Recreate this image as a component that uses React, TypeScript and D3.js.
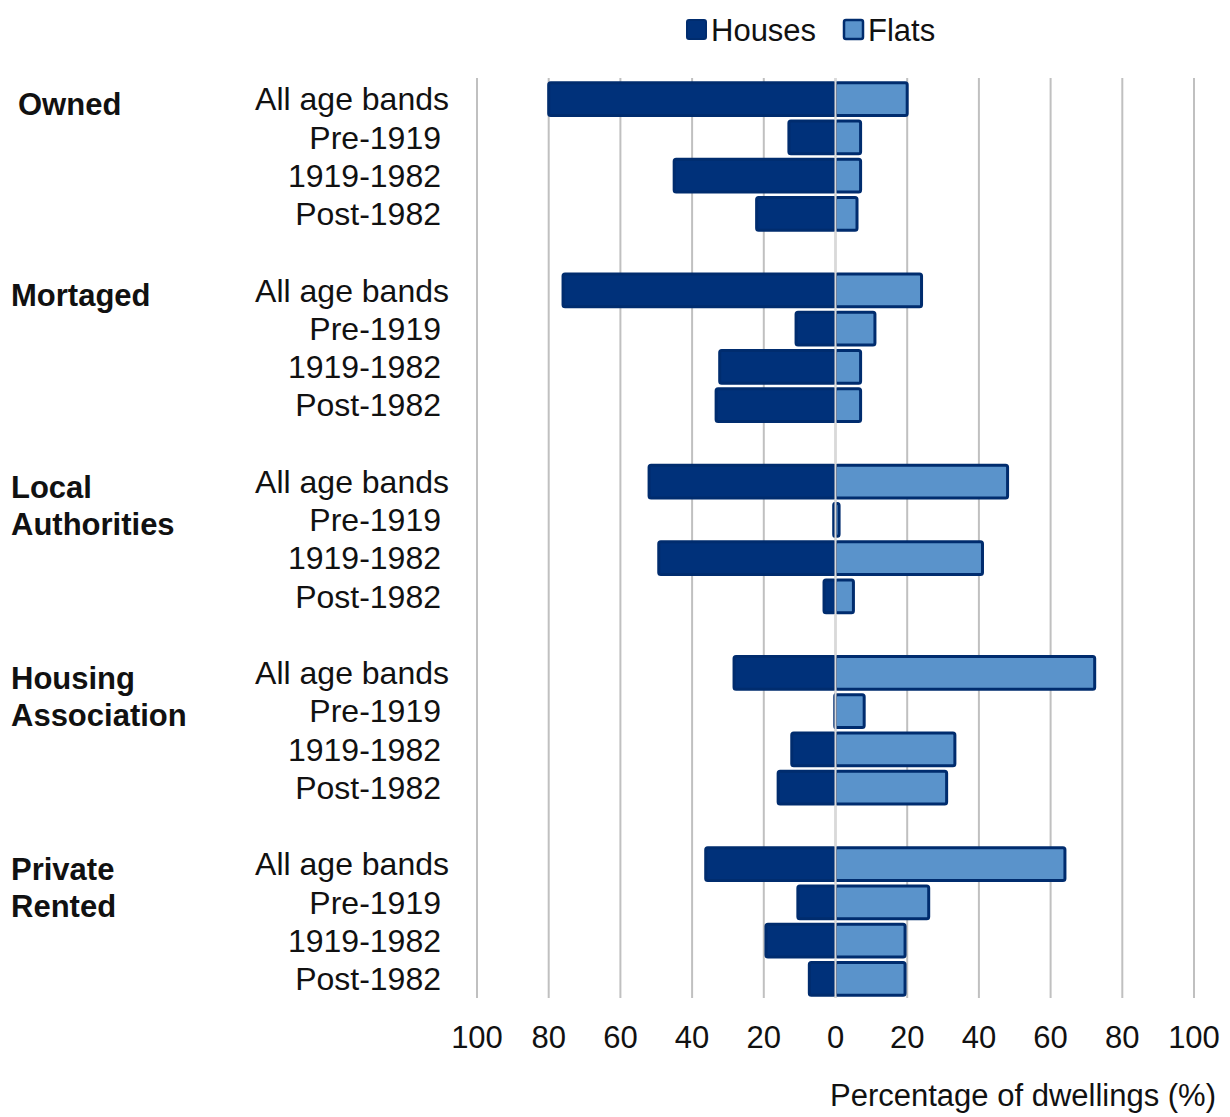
import { useMemo } from 'react';
import * as d3 from 'd3';

const groups = ['Owned', 'Mortaged', 'Local Authorities', 'Housing Association', 'Private Rented'];
const groupLines = [['Owned'], ['Mortaged'], ['Local', 'Authorities'], ['Housing', 'Association'], ['Private', 'Rented']];
const ageBands = ['All age bands', 'Pre-1919', '1919-1982', 'Post-1982'];

// % of dwellings, one row per age band, per tenure group
const houses = [
	[80, 13, 45, 22],
	[76, 11, 32.3, 33.3],
	[52, 0.5, 49.3, 3.2],
	[28.3, 0.2, 12.2, 16],
	[36.2, 10.5, 19.4, 7.3],
];
const flats = [
	[20, 7, 7, 6],
	[24, 11, 7, 7],
	[48, 1, 41, 5],
	[72.3, 8, 33.3, 31],
	[64, 26, 19.4, 19.4],
];

const xTicks = [-100, -80, -60, -40, -20, 0, 20, 40, 60, 80, 100];

const W = 1230;
const H = 1117;
const FONT = '"Liberation Sans", Arial, sans-serif';
const houseFill = '#00317a';
const flatFill = '#5a93cb';
const edge = '#002c6e';
const ink = '#111';

export default function App() {
	const margin = { top: 80, right: 36, bottom: 119, left: 477 };

	// slots: 4 rows per group, one empty slot between groups
	const slots = useMemo(() => {
		const s: string[] = [];
		groups.forEach((g, gi) => {
			ageBands.forEach((b) => s.push(`${g}|${b}`));
			if (gi < groups.length - 1) s.push(`gap${gi}`);
		});
		return s;
	}, []);

	const rows = groups.flatMap((g, gi) =>
		ageBands.map((b, bi) => ({ key: `${g}|${b}`, group: g, gi, band: b, bi, houses: houses[gi][bi], flats: flats[gi][bi] }))
	);

	const x = d3.scaleLinear().domain([-100, 100]).range([margin.left, W - margin.right]);
	const y = d3
		.scaleBand()
		.domain(slots)
		.range([margin.top, H - margin.bottom])
		.paddingInner(0.14)
		.paddingOuter(0.07);

	const bw = y.bandwidth();
	const plotBottom = H - margin.bottom;

	return (
		<div style={{ position: 'absolute', left: 0, top: 0 }}>
			<svg width={W} height={H} style={{ display: 'block', background: '#fff' }} fontFamily={FONT}>
				{/* gridlines */}
				{xTicks.map((t) => (
					<line key={t} x1={x(t)} x2={x(t)} y1={margin.top - 2} y2={plotBottom} stroke="#c0c0c0" strokeWidth={2} />
				))}

				{/* bars */}
				{rows.map((r) => {
					const yy = y(r.key)!;
					return (
						<g key={r.key}>
							{r.houses > 0 && (
								<rect
									x={x(-r.houses)}
									y={yy}
									width={x(0) - x(-r.houses)}
									height={bw}
									fill={houseFill}
									stroke={edge}
									strokeWidth={3}
									rx={2}
								/>
							)}
							{r.flats > 0 && (
								<rect
									x={x(0)}
									y={yy}
									width={x(r.flats) - x(0)}
									height={bw}
									fill={flatFill}
									stroke={edge}
									strokeWidth={3}
									rx={2}
								/>
							)}
						</g>
					);
				})}

				{/* zero line over bars */}
				<line x1={x(0)} x2={x(0)} y1={margin.top - 2} y2={plotBottom} stroke="#d9d9d9" strokeWidth={2} />

				{/* age band labels */}
				{rows.map((r) => (
					<text
						key={`l-${r.key}`}
						x={r.bi === 0 ? 449 : 441}
						y={y(r.key)! + bw / 2}
						dy="0.35em"
						textAnchor="end"
						fontSize={32}
						fill={ink}
					>
						{r.band}
					</text>
				))}

				{/* tenure group labels */}
				{groups.map((g, gi) => {
					const base = y(`${g}|${ageBands[0]}`)! + bw / 2 + 16;
					const lx = gi === 0 ? 18 : 11;
					return (
						<text key={g} fontSize={31} fontWeight="bold" fill={ink}>
							{groupLines[gi].map((line, li) => (
								<tspan key={line} x={lx} y={base + li * 37}>
									{line}
								</tspan>
							))}
						</text>
					);
				})}

				{/* x tick labels */}
				{xTicks.map((t) => (
					<text key={`t${t}`} x={x(t)} y={1037} dy="0.35em" textAnchor="middle" fontSize={31} fill={ink}>
						{Math.abs(t)}
					</text>
				))}

				<text x={1216} y={1106} textAnchor="end" fontSize={31} fill={ink}>
					Percentage of dwellings (%)
				</text>

				{/* legend */}
				<rect x={687} y={20} width={19} height={19} fill={houseFill} stroke={edge} strokeWidth={2} rx={2} />
				<text x={711} y={30} dy="0.35em" fontSize={31} fill={ink}>
					Houses
				</text>
				<rect x={844} y={20} width={19} height={19} fill={flatFill} stroke={edge} strokeWidth={2.5} rx={2} />
				<text x={868} y={30} dy="0.35em" fontSize={31} fill={ink}>
					Flats
				</text>
			</svg>
		</div>
	);
}
